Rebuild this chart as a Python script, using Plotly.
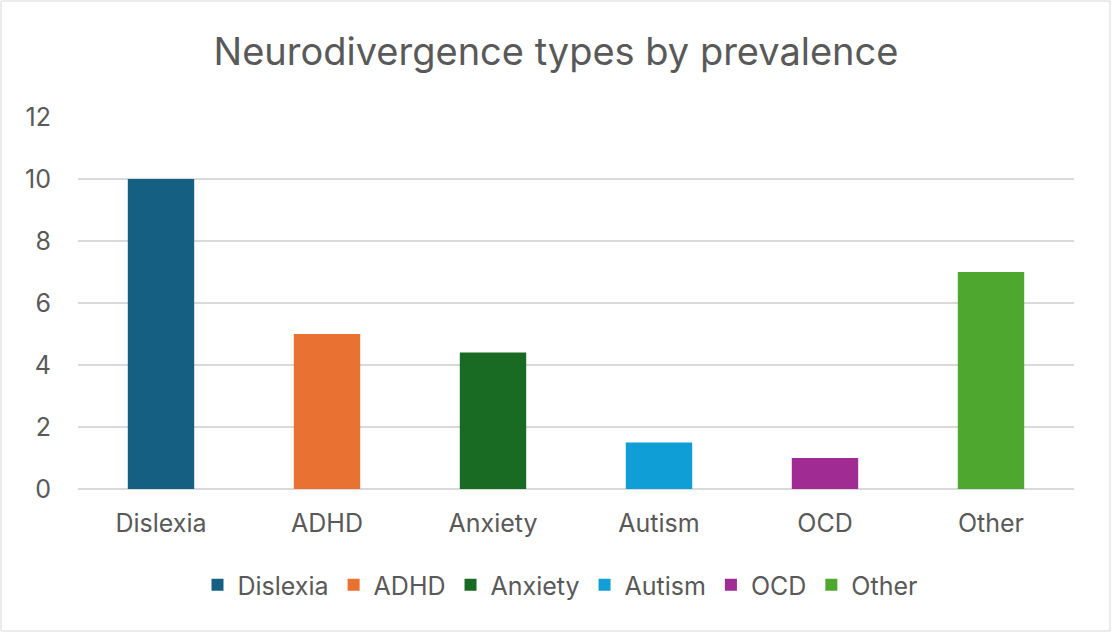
import plotly.graph_objects as go

categories = ["Dislexia", "ADHD", "Anxiety", "Autism", "OCD", "Other"]
values = [10, 5, 4.4, 1.5, 1, 7]
colors = ["#156082", "#E97132", "#196B24", "#0F9ED5", "#A02B93", "#4EA72E"]
y_ticks = [0, 2, 4, 6, 8, 10, 12]

W, H = 1112, 633
ML, MR, MT, MB = 78, 38, 117, 144
FONT = "Inter, Roboto, sans-serif"
TXT = "#595959"

fig = go.Figure()
for c, v, col in zip(categories, values, colors):
    fig.add_trace(go.Bar(x=[c], y=[v], name=c, marker=dict(color=col, line=dict(width=0)),
                         width=0.4))

pw = W - ML - MR
ph = H - MT - MB
fig.add_shape(type="rect", xref="paper", yref="paper",
              x0=(-ML + 1) / pw, x1=1 + (MR - 2) / pw,
              y0=(-MB + 2) / ph, y1=1 + (MT - 1) / ph,
              line=dict(color="#d9d9d9", width=1), layer="below")

fig.update_layout(
    width=W, height=H,
    margin=dict(l=ML, r=MR, t=MT, b=MB, autoexpand=False),
    paper_bgcolor="white", plot_bgcolor="white",
    barmode="overlay",
    font=dict(family=FONT, color=TXT, size=25),
    title=dict(text="Neurodivergence types by prevalence", x=0.5, xanchor="center",
               y=1 - 52 / H, yanchor="middle",
               font=dict(size=38, color=TXT)),
    xaxis=dict(categoryorder="array", categoryarray=categories, showgrid=False,
               showline=False, ticks="", ticklabelstandoff=17,
               tickfont=dict(size=25, color=TXT)),
    yaxis=dict(range=[0, 12], tickvals=y_ticks, showgrid=True, gridcolor="#d9d9d9",
               gridwidth=1.5, zeroline=True, zerolinecolor="#d9d9d9", zerolinewidth=1.5,
               ticks="", ticklabelstandoff=26, tickfont=dict(size=25, color=TXT)),
    legend=dict(orientation="h", x=0.5 - 16 / pw, xanchor="center", y=-(585 - 489) / ph,
                yanchor="middle", font=dict(size=25, color=TXT),
                itemwidth=30, traceorder="normal"),
    showlegend=True,
)

fig.write_html("out.html", config={"displayModeBar": False},
               post_script="document.body.style.margin='0';")
